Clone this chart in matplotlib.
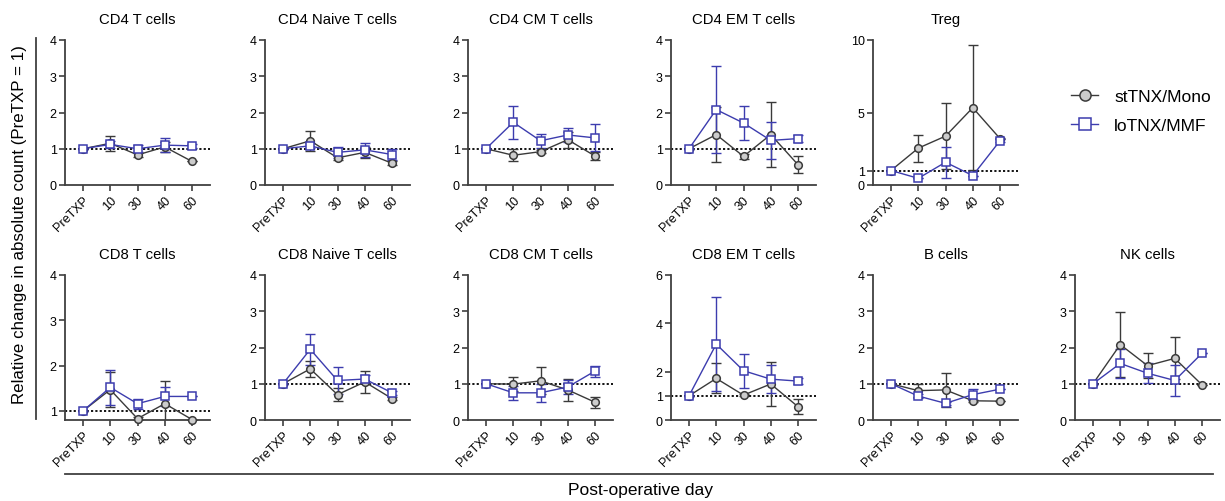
import numpy as np
import matplotlib

matplotlib.use("Agg")
import matplotlib.pyplot as plt
from matplotlib.lines import Line2D

plt.rcParams["font.family"] = ["Liberation Sans", "DejaVu Sans"]

# ---- data (relative change vs PreTXP, mean and SEM) ----
DAYS = ["PreTXP", "10", "30", "40", "60"]

PANELS = ["CD4 T cells", "CD4 Naive T cells", "CD4 CM T cells", "CD4 EM T cells", "Treg",
          "CD8 T cells", "CD8 Naive T cells", "CD8 CM T cells", "CD8 EM T cells",
          "B cells", "NK cells"]

MONO_MEAN = [
    [1, 1.15, 0.83, 1.05, 0.65],
    [1, 1.22, 0.75, 0.90, 0.60],
    [1, 0.82, 0.92, 1.25, 0.80],
    [1, 1.39, 0.79, 1.39, 0.56],
    [1, 2.54, 3.37, 5.33, 3.20],
    [1, 1.47, 0.83, 1.16, 0.81],
    [1, 1.41, 0.70, 1.05, 0.59],
    [1, 0.99, 1.08, 0.83, 0.49],
    [1, 1.72, 1.03, 1.49, 0.55],
    [1, 0.81, 0.83, 0.53, 0.52],
    [1, 2.08, 1.50, 1.70, 0.97],
]
MONO_SEM = [
    [0, 0.20, 0.05, 0.13, 0.00],
    [0, 0.27, 0.05, 0.15, 0.05],
    [0, 0.17, 0.05, 0.22, 0.10],
    [0, 0.76, 0.07, 0.90, 0.23],
    [0, 0.92, 2.30, 4.30, 0.05],
    [0, 0.39, 0.03, 0.49, 0.00],
    [0, 0.22, 0.17, 0.30, 0.05],
    [0, 0.20, 0.37, 0.30, 0.15],
    [0, 0.62, 0.03, 0.93, 0.30],
    [0, 0.18, 0.46, 0.03, 0.00],
    [0, 0.90, 0.35, 0.58, 0.00],
]
MMF_MEAN = [
    [1, 1.12, 1.00, 1.10, 1.08],
    [1, 1.08, 0.90, 0.97, 0.84],
    [1, 1.73, 1.22, 1.38, 1.30],
    [1, 2.08, 1.71, 1.23, 1.28],
    [1, 0.46, 1.57, 0.65, 3.05],
    [1, 1.52, 1.16, 1.32, 1.32],
    [1, 1.95, 1.09, 1.13, 0.75],
    [1, 0.75, 0.75, 0.91, 1.35],
    [1, 3.14, 2.04, 1.69, 1.61],
    [1, 0.66, 0.46, 0.70, 0.85],
    [1, 1.56, 1.29, 1.09, 1.84],
]
MMF_SEM = [
    [0, 0.10, 0.10, 0.20, 0.05],
    [0, 0.07, 0.15, 0.20, 0.15],
    [0, 0.45, 0.20, 0.20, 0.37],
    [0, 1.20, 0.46, 0.52, 0.10],
    [0, 0.00, 1.06, 0.00, 0.10],
    [0, 0.38, 0.11, 0.21, 0.00],
    [0, 0.42, 0.36, 0.10, 0.05],
    [0, 0.20, 0.25, 0.20, 0.15],
    [0, 1.93, 0.71, 0.58, 0.12],
    [0, 0.05, 0.05, 0.15, 0.00],
    [0, 0.39, 0.27, 0.44, 0.00],
]

# y-axis per panel (limits, ticks)
YLIMS = [(0, 4)] * 4 + [(0, 10), (0.8, 4), (0, 4), (0, 4), (0, 6), (0, 4), (0, 4)]
YTICKS = [[0, 1, 2, 3, 4]] * 4 + [[0, 1, 5, 10], [1, 2, 3, 4], [0, 1, 2, 3, 4],
                                   [0, 1, 2, 3, 4], [0, 1, 2, 4, 6], [0, 1, 2, 3, 4],
                                   [0, 1, 2, 3, 4]]

# layout in pixels
W, H = 1225, 502
COL_LEFT = [65, 265, 468, 671, 873, 1075]
ROW_TOP = [41, 276]
AX_W, AX_H = 145, 145
SLOTS = [(0, 0), (0, 1), (0, 2), (0, 3), (0, 4),
         (1, 0), (1, 1), (1, 2), (1, 3), (1, 4), (1, 5)]

GRAY_LINE = "#3a3a3a"
GRAY_FILL = "#cccccc"
BLUE = "#3c3cae"
SPINE = "#404040"


def px_rect(left, top, w, h):
    return [left / W, 1 - (top + h) / H, w / W, h / H]


def draw_panel(ax, i):
    x = np.arange(len(DAYS))
    ax.axhline(1, color="black", ls=(0, (1.2, 1.2)), lw=1.3, zorder=1)
    for mean, sem, color, marker, face in [
        (MONO_MEAN[i], MONO_SEM[i], GRAY_LINE, "o", GRAY_FILL),
        (MMF_MEAN[i], MMF_SEM[i], BLUE, "s", "white"),
    ]:
        ax.errorbar(x, mean, yerr=sem, fmt="none", ecolor=color, elinewidth=1.0,
                    capsize=3.5, capthick=1.0, zorder=2)
        ax.plot(x, mean, color=color, lw=1.0, marker=marker, ms=5.5,
                mfc=face, mec=color, mew=1.1, zorder=3, clip_on=False)

    ax.set_xlim(-0.66, 4.66)
    ax.set_ylim(*YLIMS[i])
    ax.set_yticks(YTICKS[i])
    ax.set_xticks(x)
    ax.set_xticklabels(DAYS, rotation=45, ha="right", rotation_mode="anchor")
    ax.set_title(PANELS[i], fontsize=10.7, pad=12)
    for side in ("top", "right"):
        ax.spines[side].set_visible(False)
    for side in ("left", "bottom"):
        ax.spines[side].set_color(SPINE)
        ax.spines[side].set_linewidth(1.3)
    ax.tick_params(direction="out", length=4, width=1.2, color=SPINE,
                   labelsize=9, pad=2)


fig = plt.figure(figsize=(W / 100, H / 100), dpi=100)

for i, (row, col) in enumerate(SLOTS):
    ax = fig.add_axes(px_rect(COL_LEFT[col], ROW_TOP[row], AX_W, AX_H))
    draw_panel(ax, i)

# shared labels and bracket lines
fig.add_artist(Line2D([36 / W, 36 / W], [1 - 39 / H, 1 - 420 / H],
                      color=SPINE, lw=1.3, transform=fig.transFigure))
fig.text(20 / W, 1 - 225 / H, "Relative change in absolute count (PreTXP = 1)",
         rotation=90, ha="center", va="center", fontsize=12.2)
fig.add_artist(Line2D([65 / W, 1213 / W], [1 - 475 / H, 1 - 475 / H],
                      color=SPINE, lw=1.3, transform=fig.transFigure))
fig.text(640 / W, 1 - 491 / H, "Post-operative day", ha="center", va="center",
         fontsize=12.5)

handles = [
    Line2D([], [], color=GRAY_LINE, lw=1.0, marker="o", ms=8, mfc=GRAY_FILL,
           mec=GRAY_LINE, mew=1.1),
    Line2D([], [], color=BLUE, lw=1.0, marker="s", ms=8, mfc="white",
           mec=BLUE, mew=1.1),
]
fig.legend(handles, ["stTNX/Mono", "loTNX/MMF"], loc="center left",
           bbox_to_anchor=(1055 / W, 1 - 112 / H), frameon=False, fontsize=12.5,
           handlelength=1.6, labelspacing=0.8, handletextpad=0.9)

fig.savefig("out.png", dpi=100)
